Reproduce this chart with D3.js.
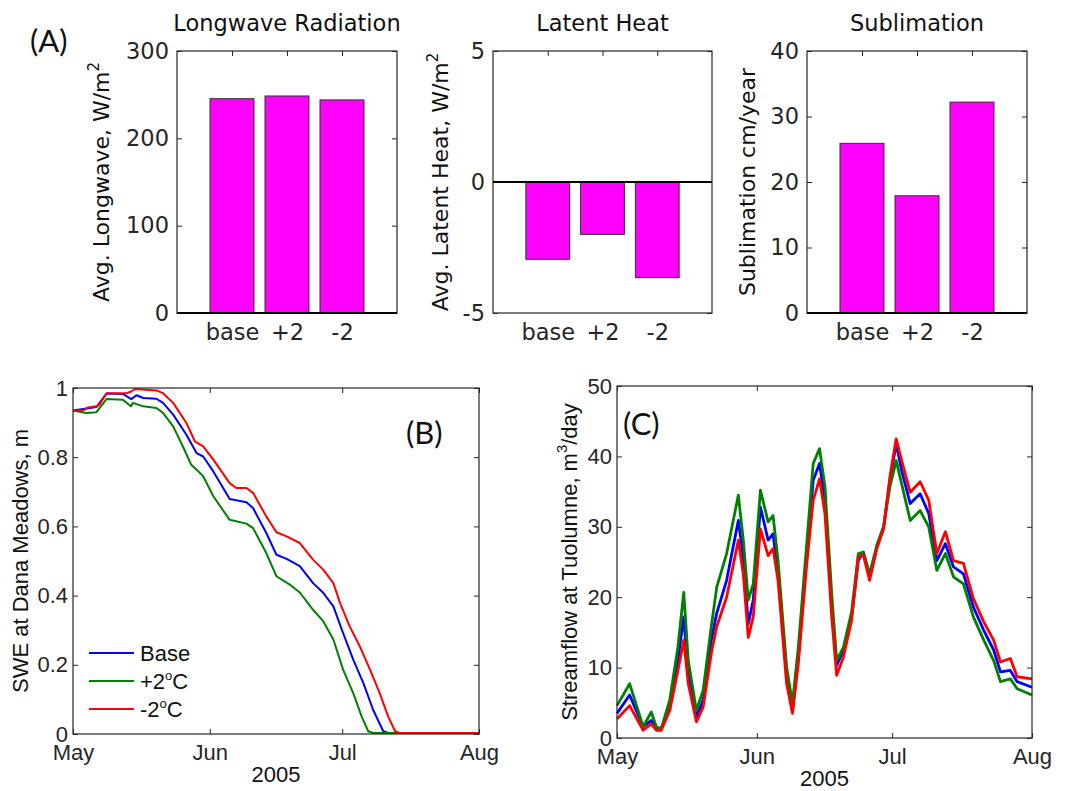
<!DOCTYPE html>
<html>
<head>
<meta charset="utf-8">
<script src="https://cdn.jsdelivr.net/npm/d3@7"></script>
<style>
  body { margin: 0; background: #fff; }
</style>
</head>
<body>
<svg id="fig" width="1067" height="791" font-family="Liberation Sans, Arial, sans-serif"></svg>
<script>
// ---- data ----
const scenarios = ["base", "+2", "-2"]
const longwave = [245.4, 248.5, 244.0]
const latentHeat = [-2.95, -2.0, -3.65]
const sublimation = [25.9, 17.9, 32.2]

// SWE at Dana Meadows: [days since May 1, metres]
const sweBase = [[0,0.935],[5.3,0.945],[7.6,0.984],[11.3,0.983],[13.2,0.968],[14.4,0.979],[15.9,0.971],[18.9,0.969],[20.4,0.957],[22.7,0.923],[25.7,0.865],[28,0.812],[29.5,0.802],[31.8,0.759],[35.5,0.679],[39.3,0.670],[40.8,0.653],[43.8,0.581],[46.1,0.518],[48.4,0.506],[51.4,0.485],[54.4,0.436],[56.7,0.408],[59,0.369],[61.2,0.292],[63.5,0.215],[65.8,0.147],[68,0.070],[70.3,0.008],[71.5,0.003],[92,0.003]]
const swePlus2 = [[0,0.935],[3,0.928],[5.3,0.93],[7.6,0.968],[11.3,0.966],[13.1,0.947],[13.6,0.957],[15.9,0.947],[18.9,0.942],[20.4,0.928],[22.7,0.889],[24.9,0.831],[26.8,0.778],[28,0.764],[29.5,0.745],[31.8,0.687],[35.5,0.619],[39.3,0.608],[40.8,0.595],[43.8,0.523],[46.1,0.456],[49.1,0.432],[51.4,0.409],[54.4,0.359],[56.7,0.326],[59,0.273],[61.2,0.186],[63.5,0.118],[65.4,0.051],[66.9,0.008],[68,0.003],[92,0.003]]
const sweMinus2 = [[0,0.935],[2.3,0.935],[3.4,0.944],[5.3,0.947],[6,0.952],[7.6,0.985],[12.1,0.985],[13.2,0.99],[14,0.997],[18.9,0.993],[20.4,0.985],[22.7,0.957],[25.7,0.899],[27.6,0.846],[29.5,0.831],[31.8,0.793],[35.5,0.725],[37,0.711],[39.3,0.711],[40.8,0.697],[43.8,0.629],[46.1,0.583],[48.4,0.571],[51.4,0.552],[54.4,0.504],[56.7,0.475],[59,0.436],[60.5,0.379],[62.7,0.311],[65,0.253],[67.3,0.186],[69.5,0.118],[71.4,0.051],[73,0.008],[74,0.003],[92,0.003]]

// Streamflow at Tuolumne, sampled on the same days
const flowDays = [0,2.8,5.8,7.6,8.7,9.8,11.7,13.5,14.8,15.8,17.6,19.1,20.9,22.1,24.3,26.9,28,29.1,30.2,31.8,33.5,34.6,35.7,37.6,38.9,40.2,42,43.5,44.9,46.1,47.6,48.7,50.2,52,53.5,54.6,56,57.6,59.1,60.5,61.9,63.1,65,67.2,69.1,70.9,72.8,74.6,76.8,79,81.3,83.5,85,87.2,88.7,92]
const flowBase = [3.5,6.1,1.6,2.5,1.3,1.3,4.4,11,17.2,9.1,3,5.4,13.9,17.7,22.4,30.9,25.7,16.2,19.6,32.8,28.1,29,23.3,9.1,3.9,11.5,25.7,36.6,39,33.8,18.6,10.3,12.5,17.2,25.2,26.4,22.9,27.1,30,36.6,41.8,38,33.3,34.7,31.9,25.2,27.6,24.3,23.3,18.6,15.3,12.5,9.4,9.6,8,7.2]
const flowPlus2 = [4.6,7.7,1.6,3.7,1.6,1.3,5.4,12.9,20.7,11,3.9,6.8,15.8,21.4,26.2,34.5,28.1,19.6,21.9,35.2,30.7,31.6,25.2,10.1,4.9,12.9,27.1,39,41.1,35.7,20.5,11,12.9,17.9,26.2,26.4,23.3,27.4,30,35.7,39.4,36.1,30.9,32.3,30,23.8,26.2,22.9,21.9,17.2,13.9,11,8,8.4,7,6.1]
const flowMinus2 = [2.7,4.6,1.1,2,1.1,1.1,3.9,9.6,13.9,7.7,2.3,4.4,12,15.8,20,28.1,23.3,14.3,17.2,29.7,25.9,26.9,22.4,7.7,3.5,10.6,24.3,33.8,36.8,31.9,17.2,8.9,11.5,16.7,25.7,26,22.4,26.9,29.7,37.1,42.5,39.4,34.9,36.4,33.8,26.2,29.3,25.2,24.8,19.8,16.5,13.9,10.8,11.3,8.7,8.4]

const seriesNames = ["Base", "+2", "-2"]
const seriesColors = ["#0000ff", "#008000", "#ff0000"]

const svg = d3.select("#fig")
const ink = "#262626"
// top row text is wider than the bottom row in the figure
const topFont = "DejaVu Sans, sans-serif", topSize = 22.5
const botFont = "Liberation Sans, Arial, sans-serif", botSize = 22

function styleAxis(g, font, size) {
  g.select(".domain").remove()
  g.attr("font-size", size).attr("font-family", font).attr("color", ink)
  g.selectAll("line").attr("stroke-width", 1)
}

function box(x, y) {
  const [x0, x1] = x.range(), [y0, y1] = y.range()
  svg.append("rect")
    .attr("x", x0).attr("y", y1)
    .attr("width", x1 - x0).attr("height", y0 - y1)
    .attr("fill", "none").attr("stroke", ink).attr("stroke-width", 1.2)
}

function yLabel(x, y, parts, font, size) {
  const t = svg.append("text")
    .attr("transform", "translate(" + x + "," + y + ") rotate(-90)")
    .attr("text-anchor", "middle")
    .attr("font-family", font)
    .attr("font-size", size)
    .attr("fill", "#111")
  parts.forEach(p => {
    const s = t.append("tspan").text(p.t)
    if (p.sup) s.attr("font-size", size * 0.68).attr("dy", -10)
    if (p.down) s.attr("dy", 10)
  })
}

function panelTag(x, y, txt) {
  svg.append("text").attr("x", x).attr("y", y)
    .attr("font-family", "Lato, 'Open Sans', sans-serif")
    .attr("font-size", 31).attr("fill", "#111").text(txt)
}

// ---- (A) bar panels ----
function barPanel(o) {
  const x = d3.scaleLinear().domain([0, 4]).range([o.left, o.right])
  const y = d3.scaleLinear().domain(o.ydom).range([313, 51])

  svg.append("g").attr("transform", "translate(" + o.left + ",0)")
    .call(d3.axisLeft(y).tickValues(o.yticks).tickFormat(d => d).tickSizeInner(-5).tickSizeOuter(0).tickPadding(8))
    .call(styleAxis, topFont, topSize)
  svg.append("g").attr("transform", "translate(" + o.right + ",0)")
    .call(d3.axisRight(y).tickValues(o.yticks).tickFormat("").tickSizeInner(-5).tickSizeOuter(0))
    .call(styleAxis, topFont, topSize)
  svg.append("g").attr("transform", "translate(0,51)")
    .call(d3.axisTop(x).tickValues([1, 2, 3]).tickFormat("").tickSizeInner(-5).tickSizeOuter(0))
    .call(styleAxis, topFont, topSize)
  svg.append("g").attr("transform", "translate(0,313)")
    .call(d3.axisBottom(x).tickValues([1, 2, 3]).tickFormat(i => scenarios[i - 1]).tickSizeInner(0).tickSizeOuter(0).tickPadding(11))
    .call(styleAxis, topFont, topSize)

  svg.selectAll(null).data(o.values).enter().append("rect")
    .attr("x", (d, i) => x(i + 1 - 0.4))
    .attr("width", x(0.8) - x(0))
    .attr("y", d => y(Math.max(d, 0)))
    .attr("height", d => Math.abs(y(d) - y(0)))
    .attr("fill", "#ff00ff")
    .attr("stroke", "#333")
    .attr("stroke-width", 1)

  box(x, y)
  svg.append("line")
    .attr("x1", o.left).attr("x2", o.right)
    .attr("y1", y(0)).attr("y2", y(0))
    .attr("stroke", "#000").attr("stroke-width", 2)

  svg.append("text")
    .attr("x", (o.left + o.right) / 2).attr("y", 31)
    .attr("text-anchor", "middle").attr("font-family", topFont).attr("font-size", topSize).attr("fill", "#111")
    .text(o.title)
  yLabel(o.labelX, 182, o.label, topFont, 22)
}

barPanel({ left: 177, right: 397, ydom: [0, 300], yticks: [0, 100, 200, 300], values: longwave,
  title: "Longwave Radiation", labelX: 109, label: [{ t: "Avg. Longwave, W/m" }, { t: "2", sup: true }] })
barPanel({ left: 493, right: 712, ydom: [-5, 5], yticks: [-5, 0, 5], values: latentHeat,
  title: "Latent Heat", labelX: 448, label: [{ t: "Avg. Latent Heat, W/m" }, { t: "2", sup: true }] })
barPanel({ left: 807, right: 1027, ydom: [0, 40], yticks: [0, 10, 20, 30, 40], values: sublimation,
  title: "Sublimation", labelX: 755, label: [{ t: "Sublimation cm/year" }] })

panelTag(30, 52, "(A)")

// ---- (B), (C) time series ----
const may1 = Date.UTC(2005, 4, 1)
const aug1 = Date.UTC(2005, 7, 1)
const dayToDate = d => new Date(may1 + d * 864e5)

function timePanel(o) {
  const x = d3.scaleUtc().domain([new Date(may1), new Date(aug1)]).range([o.left, o.right])
  const y = d3.scaleLinear().domain(o.ydom).range([o.bottom, o.top])
  const months = d3.utcMonth.range(new Date(may1), new Date(aug1 + 1))

  svg.append("g").attr("transform", "translate(" + o.left + ",0)")
    .call(d3.axisLeft(y).tickValues(o.yticks).tickFormat(d => d).tickSizeInner(-5).tickSizeOuter(0).tickPadding(5))
    .call(styleAxis, botFont, botSize)
  svg.append("g").attr("transform", "translate(" + o.right + ",0)")
    .call(d3.axisRight(y).tickValues(o.yticks).tickFormat("").tickSizeInner(-5).tickSizeOuter(0))
    .call(styleAxis, botFont, botSize)
  svg.append("g").attr("transform", "translate(0," + o.top + ")")
    .call(d3.axisTop(x).tickValues(months).tickFormat("").tickSizeInner(-5).tickSizeOuter(0))
    .call(styleAxis, botFont, botSize)
  svg.append("g").attr("transform", "translate(0," + o.bottom + ")")
    .call(d3.axisBottom(x).tickValues(months).tickFormat(d3.utcFormat("%b")).tickSizeInner(-5).tickSizeOuter(0).tickPadding(10))
    .call(styleAxis, botFont, botSize)

  const line = d3.line().x(p => x(dayToDate(p[0]))).y(p => y(p[1]))
  o.series.forEach((s, i) => {
    svg.append("path").datum(s)
      .attr("d", line)
      .attr("fill", "none")
      .attr("stroke", seriesColors[i])
      .attr("stroke-width", o.lw)
      .attr("stroke-linejoin", "round")
  })

  box(x, y)

  svg.append("text")
    .attr("x", (o.left + o.right) / 2).attr("y", o.bottom + 48)
    .attr("text-anchor", "middle").attr("font-family", botFont).attr("font-size", botSize).attr("fill", "#111")
    .text("2005")
  yLabel(o.labelX, (o.top + o.bottom) / 2, o.label, botFont, botSize)
}

timePanel({ left: 73, right: 479, top: 388, bottom: 734, ydom: [0, 1], yticks: [0, 0.2, 0.4, 0.6, 0.8, 1],
  series: [sweBase, swePlus2, sweMinus2], lw: 2,
  labelX: 28, label: [{ t: "SWE at Dana Meadows, m" }] })

const zip = vals => flowDays.map((d, i) => [d, vals[i]])
timePanel({ left: 617, right: 1032, top: 386, bottom: 738, ydom: [0, 50], yticks: [0, 10, 20, 30, 40, 50],
  series: [zip(flowBase), zip(flowPlus2), zip(flowMinus2)], lw: 2.8,
  labelX: 577, label: [{ t: "Streamflow at Tuolumne, m" }, { t: "3", sup: true }, { t: "/day", down: true }] })

// legend in (B)
const legend = svg.append("g")
seriesNames.forEach((name, i) => {
  const ly = 653 + i * 28
  legend.append("line").attr("x1", 89).attr("x2", 134).attr("y1", ly).attr("y2", ly)
    .attr("stroke", seriesColors[i]).attr("stroke-width", 2)
  const t = legend.append("text").attr("x", 140).attr("y", ly + 8)
    .attr("font-family", botFont).attr("font-size", botSize).attr("fill", "#111").text(name)
  if (i > 0) {
    t.append("tspan").attr("font-size", 13).attr("dy", -9).text("o")
    t.append("tspan").attr("dy", 9).text("C")
  }
})

panelTag(406, 444, "(B)")
panelTag(623, 435, "(C)")
</script>
</body>
</html>
